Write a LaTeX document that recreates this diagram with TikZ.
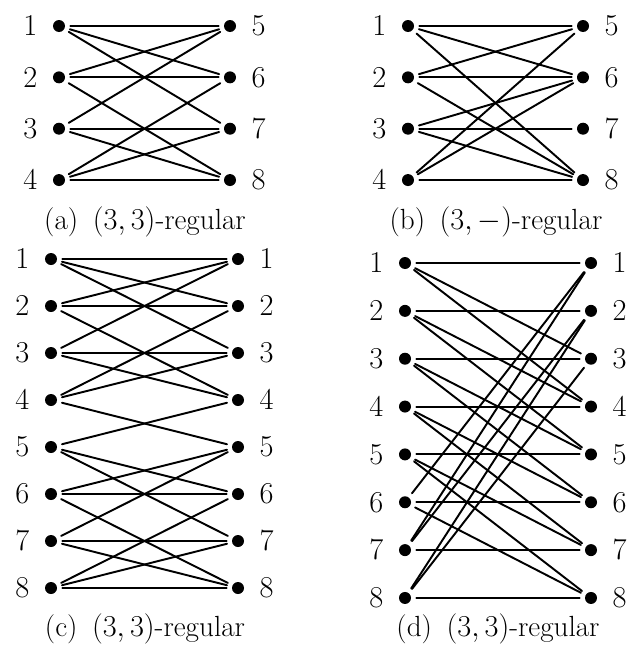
\documentclass[tikz,border=0pt]{standalone}
\usepackage{amsmath}
\usetikzlibrary{calc}

\begin{document}
\begin{tikzpicture}[line join=round,line cap=round,font=\fontsize{16.6}{20}\selectfont,
  every label/.style={inner sep=0.3cm,font=\fontsize{18.3}{22}\selectfont},
  dot/.style={circle,fill=black,inner sep=0pt,minimum size=0.24cm},
  link/.style={line width=1.1pt,shorten <=0.1cm,shorten >=0.1cm}]

  \useasboundingbox (0,0) rectangle (12.56,-12.96);

  % a) (3,3)-regular
  \foreach \i in {1,...,4}
    \node[dot, label=left:$\i$] (a\i) at (1.18, {-0.52-1.027*(\i-1)}) {};
  \foreach \i in {5,...,8}
    \node[dot, label=right:$\i$] (a\i) at (4.6, {-0.52-1.027*(\i-5)}) {};
  \foreach \u/\v in {1/5,1/6,1/7,2/5,2/6,2/8,3/5,3/7,3/8,4/6,4/7,4/8}
    \draw[link] (a\u) -- (a\v);
  \node (capa) at (2.9, -4.44) {(a)\enspace$(3,3)$-regular};

  % b) (3,-)-regular
  \foreach \i in {1,...,4}
    \node[dot, label=left:$\i$] (b\i) at (8.16, {-0.52-1.027*(\i-1)}) {};
  \foreach \i in {5,...,8}
    \node[dot, label=right:$\i$] (b\i) at (11.66, {-0.52-1.027*(\i-5)}) {};
  \foreach \u/\v in {1/5,1/6,1/8,2/5,2/6,2/8,3/6,3/7,3/8,4/5,4/6,4/8}
    \draw[link] (b\u) -- (b\v);
  \node (capb) at (9.92, -4.44) {(b)\enspace$(3,-)$-regular};

  % c) (3,3)-regular, 8 + 8 vertices
  \foreach \i in {1,...,8} {
    \node[dot, label=left:$\i$] (cl\i) at (1.02, {-5.18-0.94*(\i-1)}) {};
    \node[dot, label=right:$\i$] (cr\i) at (4.76, {-5.18-0.94*(\i-1)}) {};
  }
  \foreach \u/\v in {1/1,1/2,1/3,2/1,2/2,2/4,3/1,3/3,3/4,4/2,4/3,4/5,
                     5/4,5/6,5/7,6/5,6/6,6/8,7/5,7/7,7/8,8/6,8/7,8/8}
    \draw[link] (cl\u) -- (cr\v);
  \node (capc) at (2.9, -12.58) {(c)\enspace$(3,3)$-regular};

  % d) (3,3)-regular, i -- i, i+2, i+3 (mod 8)
  \foreach \i in {1,...,8} {
    \node[dot, label=left:$\i$] (dl\i) at (8.10, {-5.26-0.957*(\i-1)}) {};
    \node[dot, label=right:$\i$] (dr\i) at (11.82, {-5.26-0.957*(\i-1)}) {};
  }
  \foreach \i in {1,...,8}
    \foreach \k in {0,2,3} {
      \pgfmathtruncatemacro\j{mod(\i+\k-1,8)+1}
      \draw[link] (dl\i) -- (dr\j);
    }
  \node (capd) at (9.96, -12.58) {(d)\enspace$(3,3)$-regular};

\end{tikzpicture}
\end{document}
